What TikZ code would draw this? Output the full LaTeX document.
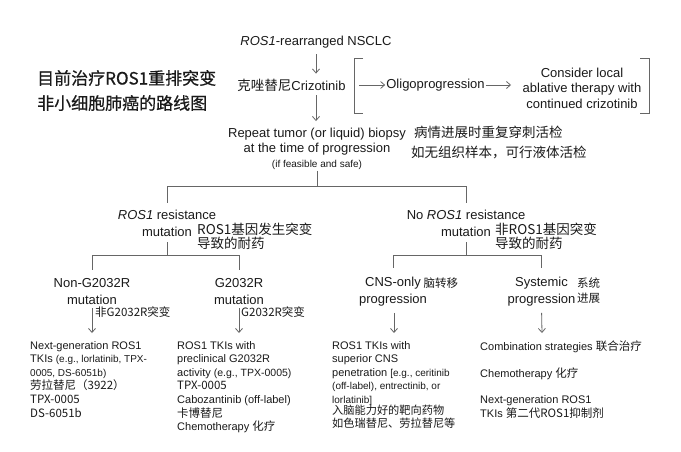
\documentclass[tikz,border=0pt]{standalone}
\usepackage{fontspec}
\setmainfont{Liberation Sans}
\newfontfamily\cjk{Noto Sans CJK SC}
\newfontfamily\cjktitle[FakeBold=0.6]{Noto Sans CJK SC}
\usetikzlibrary{arrows.meta}
\definecolor{ink}{HTML}{1A1A1A}
\definecolor{wire}{HTML}{666666}
\begin{document}
\begin{tikzpicture}[x=1pt,y=-1pt,
  txt/.style={inner sep=1pt, text=ink, font=\fontsize{13}{15}\selectfont},
  lvl/.style={inner sep=1pt, text=ink, align=center, font=\fontsize{13}{17}\selectfont},
  cn/.style={inner sep=0pt, text=ink, anchor=west, align=left, font=\cjk\fontsize{13.5}{14}\selectfont},
  cnsmall/.style={inner sep=0pt, text=ink, anchor=west, align=left, font=\cjk\fontsize{11.5}{15}\selectfont},
  box/.style={inner sep=0pt, text=ink, anchor=north west, align=left, font=\fontsize{11}{13.6}\selectfont},
  wireline/.style={draw=wire, line width=0.8pt},
  arr/.style={draw=wire, line width=0.8pt, -{Straight Barb[length=4pt,width=7pt]}},
  brk/.style={draw=wire, line width=0.8pt}]
\useasboundingbox (0,0) rectangle (681,452);
\fill[white] (0,0) rectangle (681,452);
\newcommand{\sm}{\fontsize{10}{13.6}\selectfont}
\newcommand{\cjkb}{\cjk\fontsize{11.5}{13.6}\selectfont}

% title
\node[inner sep=0pt, text=ink, anchor=west, align=left, font=\cjktitle\fontsize{17}{25}\selectfont] (title) at (37,90.5) {目前治疗ROS1重排突变\\非小细胞肺癌的路线图};

% top part
\node[txt] (root) at (316,42) {\textit{ROS1}-rearranged NSCLC};
\node[txt] (criz) at (291.5,85) {{\cjk\fontsize{13.5}{15}\selectfont 克唑替尼}Crizotinib};
\node[txt] (oligo) at (435.5,85) {Oligoprogression};
\node[txt, align=center, font=\fontsize{13}{15.5}\selectfont] (abl) at (582,88) {Consider local\\ablative therapy with\\continued crizotinib};
\coordinate (brL) at (354,85);
\coordinate (brR) at (649,85);
\coordinate (ablin) at (511,85);
\draw[brk] ([xshift=9]brL |- 0,58) -- (brL |- 0,58) -- (brL |- 0,113) -- ([xshift=9]brL |- 0,113);
\draw[brk] ([xshift=-9]brR |- 0,58) -- (brR |- 0,58) -- (brR |- 0,113) -- ([xshift=-9]brR |- 0,113);
\draw[arr] ([xshift=5]brL) -- (oligo.west);
\draw[arr] (oligo.east) -- (ablin);
\draw[arr, shorten <=5pt, shorten >=4pt] (root.south) -- (root.south |- criz.north);

\node[txt, align=center] (bio) at (317,149) {Repeat tumor (or liquid) biopsy\\at the time of progression\\{\fontsize{10}{15}\selectfont (if feasible and safe)}};
\draw[arr, shorten <=3pt, shorten >=6pt] (root.south |- criz.south) -- (root.south |- bio.north);
\node[cn, font=\cjk\fontsize{13.5}{20}\selectfont] (bioCn) at (411,143) {\hspace*{3pt}病情进展时重复穿刺活检\\如无组织样本，可行液体活检};

% first branching
\coordinate (j1) at (317,186);
\node[lvl] (resL) at (167,223) {\textit{ROS1} resistance\\mutation};
\node[lvl] (resR) at (466,223) {No \textit{ROS1} resistance\\mutation};
\node[cn] (resLcn) at (197,236.5) {ROS1基因发生突变\\导致的耐药};
\node[cn] (resRcn) at (495,236.5) {非ROS1基因突变\\导致的耐药};
\draw[wireline] (bio.south) -- (j1);
\draw[wireline] (resL.north |- j1) -- (resR.north |- j1);
\draw[wireline, shorten >=6pt] (resL.north |- j1) -- (resL.north);
\draw[wireline, shorten >=6pt] (resR.north |- j1) -- (resR.north);

% second branching
\coordinate (j2) at (0,255);
\node[lvl] (nonG) at (92,292) {Non-G2032R\\mutation};
\node[lvl] (gmut) at (239,292) {G2032R\\mutation};
\node[lvl] (cns) at (393,292) {CNS-only\\progression};
\node[lvl] (sys) at (541.5,292) {Systemic\\progression};
\node[cnsmall] (nonGcn) at (95,312) {非G2032R突变};
\node[cnsmall] (gmutcn) at (241,312) {G2032R突变};
\node[cnsmall] (cnscn) at (423.5,283) {脑转移};
\node[cnsmall] (syscn) at (577,291) {系统\\进展};

\draw[wireline, shorten <=5pt] (resL.south) -- (resL.south |- j2);
\draw[wireline, shorten <=5pt] (resR.south) -- (resR.south |- j2);
\draw[wireline] (nonG.north |- j2) -- (gmut.north |- j2);
\draw[wireline] (cns.north |- j2) -- (sys.north |- j2);
\foreach \n in {nonG,gmut,cns,sys}
  \draw[wireline, shorten >=8pt] (\n.north |- j2) -- (\n.north);

% bottom boxes
\node[box] (b1) at (30,341) {Next-generation ROS1\\TKIs {\sm (e.g., lorlatinib, TPX-}\\{\sm 0005, DS-6051b)}\\{\cjkb 劳拉替尼（3922）}\\{\cjkb TPX-0005}\\{\cjkb DS-6051b}};
\node[box] (b2) at (177,341) {ROS1 TKIs with\\preclinical G2032R\\activity {\fontsize{10.5}{13.6}\selectfont (e.g., TPX-0005)}\\{\cjkb TPX-0005}\\Cabozantinib (off-label)\\{\cjkb 卡博替尼}\\Chemotherapy {\cjkb 化疗}};
\node[box] (b3) at (332,341) {ROS1 TKIs with\\superior CNS\\penetration {\sm [e.g., ceritinib}\\{\sm (off-label), entrectinib, or}\\{\sm lorlatinib]}\\[-3pt]{\cjk\fontsize{11.2}{13.6}\selectfont 入脑能力好的靶向药物}\\{\cjk\fontsize{11.2}{13.6}\selectfont 如色瑞替尼、劳拉替尼等}};
\node[box] (b4) at (480,341) {Combination strategies {\cjkb 联合治疗}\\[13pt]Chemotherapy {\cjkb 化疗}\\[12pt]Next-generation ROS1\\[1pt]TKIs {\cjkb 第二代ROS1抑制剂}};

\coordinate (a1) at (92,333);
\coordinate (a2) at (239,333);
\coordinate (a3) at (394,333);
\coordinate (a4) at (542,333);
\draw[arr, shorten <=2pt] (nonG.south) -- (a1);
\draw[arr, shorten <=2pt] (gmut.south) -- (a2);
\draw[arr, shorten <=5pt] (cns.south -| a3) -- (a3);
\draw[arr, shorten <=5pt] (sys.south) -- (a4);
\end{tikzpicture}
\end{document}
